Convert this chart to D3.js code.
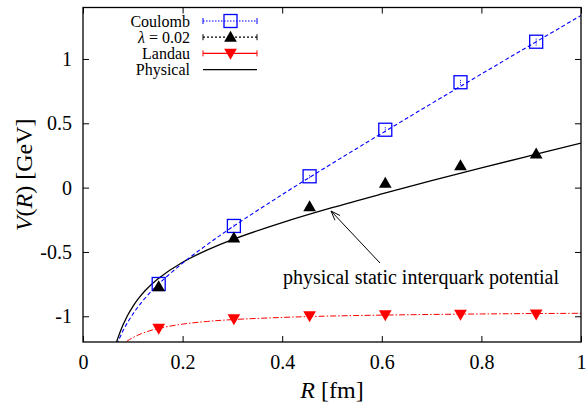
<!DOCTYPE html>
<html>
<head>
<meta charset="utf-8">
<script src="https://cdn.jsdelivr.net/npm/d3@7"></script>
<style>
  html, body { margin: 0; padding: 0; background: #fff; }
  svg text { font-family: "Liberation Serif", "Times New Roman", Times, "DejaVu Serif", serif !important; }
</style>
</head>
<body>
<div id="chart"></div>
<script>
// ---- data ----
const latticeR = [0.152, 0.303, 0.455, 0.607, 0.758, 0.91];
const coulombV = [-0.749, -0.298, 0.088, 0.450, 0.819, 1.134];
const coulombErr = [0.01, 0.01, 0.015, 0.02, 0.02, 0.03];
const lambdaV = [-0.77, -0.39, -0.148, 0.035, 0.172, 0.262];
const landauV = [-1.094, -1.021, -0.998, -0.99, -0.985, -0.983];

// fitted curves
const curveR = [0.0675, 0.07, 0.08, 0.0875, 0.09, 0.1, 0.11, 0.125, 0.15, 0.2, 0.25, 0.3, 0.4, 0.5, 0.6, 0.7, 0.8, 0.9, 1.0];
const physicalV = [-1.20, -1.17, -1.070, -1.01, -0.990, -0.925, -0.869, -0.800, -0.710, -0.580, -0.484, -0.404, -0.272, -0.156, -0.049, 0.054, 0.153, 0.250, 0.346];
const coulombFitV = [-1.218, -1.199, -1.115, -1.061, -1.045, -0.984, -0.930, -0.858, -0.756, -0.587, -0.441, -0.306, -0.054, 0.187, 0.422, 0.654, 0.883, 1.111, 1.338];
const landauFitV = [null, null, null, -1.196, -1.189, -1.166, -1.147, -1.124, -1.096, -1.061, -1.040, -1.026, -1.009, -0.998, -0.991, -0.986, -0.982, -0.979, -0.977];

const xTicks = [0, 0.2, 0.4, 0.6, 0.8, 1];
const yTicks = [-1, -0.5, 0, 0.5, 1];

const fullW = 586, fullH = 404;
const margin = { top: 7.5, right: 5, bottom: 62, left: 83 };
const w = fullW - margin.left - margin.right;
const h = fullH - margin.top - margin.bottom;

const svg = d3.select("#chart").append("svg")
  .attr("width", fullW).attr("height", fullH);

const g = svg.append("g").attr("transform", `translate(${margin.left},${margin.top})`);

const x = d3.scaleLinear().domain([0, 1]).range([0, w]);
const y = d3.scaleLinear().domain([-1.2, 1.4]).range([h, 0]);

svg.append("defs").append("clipPath").attr("id", "clip")
  .append("rect").attr("width", w).attr("height", h);

// axes with inward ticks, mirrored
const tickLen = 6;
const fmtTick = d => d === 0 ? "0" : String(d);
g.append("g").attr("transform", `translate(0,${h})`)
  .call(d3.axisBottom(x).tickValues(xTicks).tickSize(-tickLen).tickPadding(13).tickFormat(fmtTick));
g.append("g")
  .call(d3.axisTop(x).tickValues(xTicks).tickSize(-tickLen).tickFormat(""));
g.append("g")
  .call(d3.axisLeft(y).tickValues(yTicks).tickSize(-tickLen).tickPadding(11).tickFormat(fmtTick));
g.append("g").attr("transform", `translate(${w},0)`)
  .call(d3.axisRight(y).tickValues(yTicks).tickSize(-tickLen).tickFormat(""));

g.selectAll(".domain").remove();
g.selectAll(".tick line").attr("stroke", "#000").attr("stroke-width", 1);
g.selectAll(".tick text")
  .attr("font-family", null)
  .style("font-size", "20px").attr("fill", "#000");

// curves
const curvePts = vals => curveR.map((r, i) => [r, vals[i]]).filter(d => d[1] !== null);
const line = d3.line().x(d => x(d[0])).y(d => y(d[1])).curve(d3.curveCatmullRom);
const plot = g.append("g").attr("clip-path", "url(#clip)");

plot.append("path").datum(curvePts(landauFitV)).attr("d", line)
  .attr("fill", "none").attr("stroke", "#ff0000").attr("stroke-width", 1)
  .attr("stroke-dasharray", "6,2,1.5,2");
plot.append("path").datum(curvePts(physicalV)).attr("d", line)
  .attr("fill", "none").attr("stroke", "#000").attr("stroke-width", 1.3);
plot.append("path").datum(curvePts(coulombFitV)).attr("d", line)
  .attr("fill", "none").attr("stroke", "#0000ff").attr("stroke-width", 1.1)
  .attr("stroke-dasharray", "4,2.5");

// markers
const tri = d3.symbol().type(d3.symbolTriangle).size(70);

g.selectAll(".cerr").data(latticeR).enter().append("line")
  .attr("x1", d => x(d)).attr("x2", d => x(d))
  .attr("y1", (d, i) => y(coulombV[i] - coulombErr[i]))
  .attr("y2", (d, i) => y(coulombV[i] + coulombErr[i]))
  .attr("stroke", "#0000ff").attr("stroke-width", 1).attr("stroke-dasharray", "1,1");

g.selectAll(".sq").data(latticeR).enter().append("rect")
  .attr("x", d => x(d) - 6.5).attr("y", (d, i) => y(coulombV[i]) - 6.5)
  .attr("width", 13).attr("height", 13)
  .attr("fill", "none").attr("stroke", "#0000ff").attr("stroke-width", 1.3);

g.selectAll(".up").data(latticeR).enter().append("path")
  .attr("d", tri)
  .attr("transform", (d, i) => `translate(${x(d)},${y(lambdaV[i]) + 1})`)
  .attr("fill", "#000");

g.selectAll(".down").data(latticeR).enter().append("path")
  .attr("d", tri)
  .attr("transform", (d, i) => `translate(${x(d)},${y(landauV[i]) - 1}) rotate(180)`)
  .attr("fill", "#ff0000");

// frame
g.append("rect").attr("width", w).attr("height", h)
  .attr("fill", "none").attr("stroke", "#000").attr("stroke-width", 1.3);

// legend
const legend = [
  { label: "Coulomb", color: "#0000ff", dash: "1.5,1.5", caps: true, marker: "square" },
  { label: "λ = 0.02", color: "#000", dash: "2,2", caps: true, marker: "up" },
  { label: "Landau", color: "#ff0000", dash: null, caps: true, marker: "down" },
  { label: "Physical", color: "#000", dash: null, caps: false, marker: null }
];
const lg = svg.append("g").attr("transform", "translate(0,21)");
legend.forEach((d, i) => {
  const row = lg.append("g").attr("transform", `translate(0,${i * 16.2})`);
  const t = row.append("text").attr("x", 190).attr("y", 0).attr("dy", "0.35em")
    .attr("text-anchor", "end").style("font-size", "16px").attr("fill", "#000");
  if (d.label.startsWith("λ")) {
    t.append("tspan").style("font-style", "italic").text("λ");
    t.append("tspan").text(" = 0.02");
  } else {
    t.text(d.label);
  }
  row.append("line").attr("x1", 203).attr("x2", 257).attr("y1", 0).attr("y2", 0)
    .attr("stroke", d.color).attr("stroke-width", 1.2)
    .attr("stroke-dasharray", d.dash);
  if (d.caps) {
    [203, 257].forEach(cx => row.append("line").attr("x1", cx).attr("x2", cx)
      .attr("y1", -3).attr("y2", 3).attr("stroke", d.color).attr("stroke-width", 1));
  }
  if (d.marker === "square") {
    row.append("rect").attr("x", 224).attr("y", -6.5).attr("width", 13).attr("height", 13)
      .attr("fill", "none").attr("stroke", d.color).attr("stroke-width", 1.3);
  } else if (d.marker === "up") {
    row.append("path").attr("d", tri).attr("transform", "translate(230.5,1)").attr("fill", d.color);
  } else if (d.marker === "down") {
    row.append("path").attr("d", tri).attr("transform", "translate(230.5,-1) rotate(180)").attr("fill", d.color);
  }
});

// annotation
svg.append("text").attr("x", 421).attr("y", 284).attr("text-anchor", "middle")
  .style("font-size", "20px").attr("fill", "#000")
  .text("physical static interquark potential");
const ax1 = 380, ay1 = 263, ax2 = 331, ay2 = 211;
svg.append("line").attr("x1", ax1).attr("y1", ay1).attr("x2", ax2).attr("y2", ay2)
  .attr("stroke", "#000").attr("stroke-width", 1);
const ang = Math.atan2(ay1 - ay2, ax1 - ax2);
[0.35, -0.35].forEach(da => {
  svg.append("line").attr("x1", ax2).attr("y1", ay2)
    .attr("x2", ax2 + 10 * Math.cos(ang + da)).attr("y2", ay2 + 10 * Math.sin(ang + da))
    .attr("stroke", "#000").attr("stroke-width", 1);
});

// axis titles
const xt = svg.append("text").attr("x", margin.left + w / 2).attr("y", 398)
  .attr("text-anchor", "middle").style("font-size", "24px").attr("fill", "#000");
xt.append("tspan").style("font-style", "italic").text("R");
xt.append("tspan").text(" [fm]");

const yt = svg.append("text").attr("transform", `translate(32,${margin.top + h / 2}) rotate(-90)`)
  .attr("text-anchor", "middle").style("font-size", "24px").attr("fill", "#000");
yt.append("tspan").style("font-style", "italic").text("V");
yt.append("tspan").text("(");
yt.append("tspan").style("font-style", "italic").text("R");
yt.append("tspan").text(") [GeV]");
</script>
</body>
</html>
